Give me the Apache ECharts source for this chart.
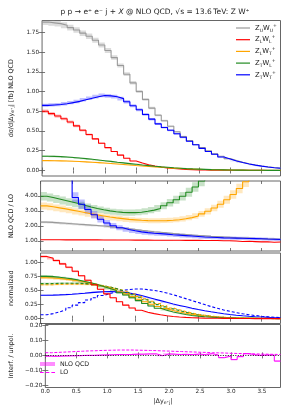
<!DOCTYPE html>
<html><head><meta charset="utf-8">
<script src="https://cdn.jsdelivr.net/npm/echarts@6/dist/echarts.min.js"></script>
<style>html,body{margin:0;padding:0;background:#fff}#c{width:293px;height:410px}</style>
</head><body><div id="c"></div>
<script>
// ---------- data ----------
const binEdges = [0.0,0.1,0.2,0.3,0.4,0.5,0.6,0.7,0.8,0.9,1.0,1.1,1.2,1.3,1.4,1.5,1.6,1.7,1.8,1.9,2.0,2.1,2.2,2.3,2.4,2.5,2.6,2.7,2.8,2.9,3.0,3.1,3.2,3.3,3.4,3.5,3.6,3.7,3.8];
const xTicks = [0,0.5,1,1.5,2,2.5,3,3.5];
const yTicks1 = [0,0.25,0.5,0.75,1.0,1.25,1.5,1.75];
const yTicks2 = [1,2,3,4];
const yTicks3 = [0,0.25,0.5,0.75,1.0];
const yTicks4 = [-0.2,-0.1,0,0.1,0.2];

// panel 1: dsigma/d|dy| [fb] NLO QCD
const xsec_ZUWU = [1.88,1.87,1.86,1.84,1.81,1.78,1.74,1.70,1.65,1.59,1.52,1.43,1.33,1.22,1.11,1.00,0.90,0.79,0.70,0.63,0.56,0.49,0.43,0.38,0.33,0.29,0.25,0.21,0.18,0.15,0.125,0.104,0.086,0.07,0.057,0.046,0.037,0.03];
const xsec_ZLWL = [0.75,0.72,0.69,0.655,0.615,0.565,0.51,0.455,0.40,0.345,0.29,0.24,0.195,0.155,0.12,0.095,0.073,0.056,0.043,0.033,0.025,0.019,0.014,0.011,0.008,0.006,0.005,0.004,0.003,0.0025,0.002,0.0015,0.0012,0.001,0.0008,0.0006,0.0005,0.0004];
const xsec_ZLWT = [0.125,0.124,0.122,0.12,0.117,0.113,0.109,0.104,0.099,0.094,0.088,0.082,0.076,0.07,0.063,0.057,0.051,0.045,0.04,0.035,0.03,0.026,0.022,0.019,0.016,0.013,0.011,0.009,0.0075,0.006,0.005,0.004,0.0033,0.0027,0.0022,0.0018,0.0015,0.0012];
const xsec_ZTWL = [0.18,0.178,0.175,0.17,0.165,0.158,0.15,0.142,0.133,0.124,0.115,0.105,0.096,0.087,0.078,0.069,0.061,0.053,0.046,0.04,0.034,0.029,0.024,0.02,0.017,0.014,0.011,0.009,0.0075,0.006,0.005,0.004,0.0032,0.0026,0.002,0.0016,0.0013,0.001];
const xsec_ZTWT = [0.825,0.83,0.835,0.845,0.86,0.875,0.895,0.915,0.935,0.95,0.945,0.935,0.91,0.87,0.82,0.77,0.71,0.65,0.59,0.545,0.51,0.465,0.42,0.37,0.325,0.28,0.24,0.205,0.17,0.145,0.12,0.1,0.083,0.068,0.055,0.044,0.035,0.028];

// panel 2: NLO QCD / LO
const ratio_ZUWU = [2.26,2.24,2.21,2.18,2.15,2.12,2.09,2.06,2.03,2.0,1.96,1.92,1.87,1.82,1.77,1.72,1.67,1.62,1.58,1.54,1.50,1.46,1.43,1.40,1.37,1.34,1.31,1.29,1.27,1.25,1.21,1.2,1.19,1.17,1.16,1.14,1.13,1.11];
const ratio_ZLWL = [1.08,1.08,1.08,1.078,1.077,1.076,1.075,1.073,1.072,1.07,1.068,1.066,1.064,1.062,1.06,1.058,1.056,1.054,1.052,1.05,1.048,1.046,1.044,1.042,1.04,1.038,1.035,1.03,1.02,1.02,1.0,0.97,0.98,0.96,0.94,0.95,0.92,0.93];
const ratio_ZLWT = [3.34,3.28,3.21,3.14,3.06,2.98,2.9,2.82,2.74,2.67,2.6,2.54,2.49,2.44,2.41,2.38,2.36,2.35,2.35,2.36,2.38,2.42,2.48,2.56,2.67,2.81,2.98,3.2,3.45,3.75,4.1,4.5,4.95,5.45,6.0,6.6,7.2,7.9];
const ratio_ZTWL = [3.98,3.9,3.8,3.7,3.6,3.5,3.38,3.27,3.17,3.08,3.01,2.95,2.91,2.89,2.89,2.92,2.98,3.06,3.17,3.35,3.55,3.75,3.98,4.25,4.6,5.0,5.4,5.8,6.2,6.7,7.2,7.8,8.4,9.0,9.7,10.5,11.3,12.2];
const ratio_ZTWT = [12,10,8,6.5,5.5,3.9,3.45,3.1,2.75,2.45,2.2,2.02,1.88,1.77,1.68,1.61,1.56,1.52,1.49,1.46,1.42,1.39,1.36,1.33,1.3,1.27,1.25,1.23,1.21,1.2,1.19,1.18,1.17,1.16,1.15,1.13,1.12,1.1];

// panel 3: normalized (solid NLO, dashed LO)
const normNLO_ZLWL = [1.1,1.07,1.03,0.97,0.91,0.84,0.76,0.68,0.6,0.52,0.44,0.37,0.3,0.24,0.19,0.15,0.115,0.09,0.07,0.053,0.04,0.031,0.024,0.018,0.014,0.011,0.009,0.007,0.006,0.005,0.004,0.003,0.003,0.002,0.002,0.002,0.001,0.001];
const normNLO_ZTWL = [0.75,0.745,0.735,0.72,0.705,0.685,0.66,0.635,0.605,0.57,0.535,0.5,0.46,0.42,0.37,0.32,0.27,0.225,0.185,0.15,0.12,0.095,0.075,0.058,0.045,0.035,0.027,0.021,0.016,0.013,0.01,0.008,0.006,0.005,0.004,0.003,0.003,0.002];
const normNLO_ZLWT = [0.725,0.72,0.712,0.70,0.688,0.672,0.652,0.63,0.605,0.578,0.547,0.513,0.477,0.44,0.39,0.345,0.30,0.255,0.215,0.178,0.146,0.118,0.095,0.076,0.06,0.048,0.038,0.03,0.024,0.019,0.015,0.012,0.01,0.008,0.006,0.005,0.004,0.003];
const normNLO_ZTWT = [0.415,0.418,0.422,0.427,0.434,0.442,0.451,0.461,0.47,0.477,0.48,0.478,0.47,0.455,0.435,0.41,0.38,0.35,0.32,0.29,0.26,0.235,0.21,0.185,0.163,0.142,0.122,0.104,0.088,0.074,0.062,0.052,0.043,0.035,0.029,0.023,0.018,0.014];
const normLO_ZTWL = [0.62,0.622,0.625,0.627,0.628,0.627,0.622,0.613,0.6,0.583,0.56,0.532,0.5,0.463,0.423,0.38,0.336,0.293,0.25,0.21,0.174,0.142,0.114,0.09,0.07,0.054,0.041,0.031,0.023,0.017,0.013,0.01,0.007,0.005,0.004,0.003,0.002,0.002];
const normLO_ZLWT = [0.60,0.603,0.607,0.61,0.612,0.612,0.61,0.605,0.595,0.58,0.56,0.535,0.505,0.472,0.435,0.395,0.353,0.31,0.268,0.228,0.19,0.157,0.127,0.101,0.079,0.061,0.047,0.036,0.027,0.02,0.015,0.011,0.008,0.006,0.004,0.003,0.002,0.002];
const normLO_ZTWT = [0.07,0.09,0.12,0.155,0.195,0.24,0.285,0.33,0.37,0.41,0.445,0.475,0.5,0.515,0.525,0.525,0.515,0.5,0.48,0.455,0.425,0.39,0.355,0.32,0.285,0.25,0.215,0.185,0.155,0.13,0.107,0.087,0.07,0.056,0.044,0.034,0.026,0.02];

// panel 4: Interf. / unpol.
const interf_NLO = [-0.005,-0.006,-0.004,-0.003,-0.002,-0.001,0.0,0.0,0.002,0.003,0.004,0.006,0.005,0.006,0.008,0.008,0.01,0.01,-0.002,0.01,0.008,0.006,0.007,0.005,0.009,0.004,0.012,0.002,-0.015,-0.005,-0.028,-0.008,0.012,0.004,0.0,0.003,0.002,-0.038];
const interf_LO = [0.018,0.02,0.022,0.024,0.026,0.028,0.03,0.031,0.033,0.034,0.035,0.036,0.036,0.036,0.035,0.034,0.033,0.032,0.03,0.029,0.027,0.026,0.024,0.023,0.021,0.02,0.018,0.017,0.016,0.014,0.013,0.012,0.011,0.01,0.009,0.008,0.007,0.006];

// ---------- styling ----------
const FONT = 'DejaVu Sans';
const C = {gray:'#9a9a9a', red:'#ff0000', orange:'#ffa500', green:'#228b22', blue:'#0000ff', mag:'#ff00ff'};
const FRAME = '#555';
const TXT = '#222';
const minus = s => s.replace('-', '\u2212');
const LINE_ICON = 'path://M0,0H14V1.2H0Z';
const DASH_ICON = 'path://M0,0H3.5V1H0Z M5.5,0H9V1H5.5Z M11,0H14.5V1H11Z';

const grids = [
  {left:29.5, width:251, top:20.5, height:155.5},
  {left:29.5, width:251, top:181, height:70},
  {left:29.5, width:251, top:253, height:70.5},
  {left:29.5, width:251, top:324.5, height:63}
];
const yRanges = [[-0.07,1.9],[0.333,5.0],[-0.085,1.163],[-0.215,0.207]];
const yTickSets = [yTicks1,yTicks2,yTicks3,yTicks4];
const subRich = {
  m:{fontSize:6.4, fontFamily:FONT, color:TXT, lineHeight:9},
  s:{fontSize:4.6, fontFamily:FONT, color:TXT, lineHeight:5, verticalAlign:'bottom'}
};
const yNames = [
  '{m|d\u03c3/d|\u0394y}{s|e\u207aj}{m|| [fb] NLO QCD}',
  '{m|NLO QCD / LO}',
  '{m|normalized}',
  '{m|Interf. / unpol.}'
];

const xAxes = [], yAxes = [];
grids.forEach((g, p) => {
  const base = {gridIndex:p, type:'value', min:0, max:3.8, splitLine:{show:false}, axisLine:{show:false},
    axisTick:{show:true, inside:true, length:3, customValues:xTicks, lineStyle:{color:FRAME, width:0.8}}};
  xAxes.push(Object.assign({}, base, {position:'bottom',
    axisLabel:{show:p===3, customValues:xTicks, formatter:v=>v.toFixed(1), fontSize:5.7, fontFamily:FONT, color:TXT, margin:1.5},
    name: p===3 ? '{m||\u0394y}{s|e\u207aj}{m||}' : '', nameLocation:'middle', nameGap:9,
    nameTextStyle:{rich:subRich}}));
  xAxes.push(Object.assign({}, base, {position:'top', axisLabel:{show:false}}));
  const yb = {gridIndex:p, type:'value', min:yRanges[p][0], max:yRanges[p][1], splitLine:{show:false}, axisLine:{show:false},
    axisTick:{show:true, inside:true, length:3, customValues:yTickSets[p], lineStyle:{color:FRAME, width:0.8}}};
  yAxes.push(Object.assign({}, yb, {position:'left',
    axisLabel:{show:true, customValues:yTickSets[p], formatter:v=>minus(v.toFixed(2)), fontSize:5.7, fontFamily:FONT, color:TXT, margin:3},
    name:yNames[p], nameLocation:'middle', nameGap:18.5, nameTextStyle:{rich:subRich}}));
  yAxes.push(Object.assign({}, yb, {position:'right', axisLabel:{show:false}}));
});

function stepData(vals){
  const d = vals.map((v,i)=>[binEdges[i], v]);
  d.push([binEdges[vals.length], vals[vals.length-1]]);
  return d;
}
function lineSeries(name, vals, p, color, type, width){
  return {type:'line', name, xAxisIndex:p*2, yAxisIndex:p*2, data:stepData(vals), step:'end',
    symbol:'none', showSymbol:false, clip:true, animation:false, z:4,
    lineStyle:{color, width:width||1.1, type:type||'solid'}, itemStyle:{color}};
}
function bandSeries(vals, p, color, frac, abs, opacity){
  return {type:'custom', xAxisIndex:p*2, yAxisIndex:p*2, data:[[0]], silent:true, animation:false, z:2,
    renderItem(params, api){
      const up = [], lo = [];
      vals.forEach((v,i)=>{
        const h = abs!=null ? v+abs : v*(1+frac);
        const l = abs!=null ? v-abs : v*(1-frac);
        up.push(api.coord([binEdges[i], h]), api.coord([binEdges[i+1], h]));
        lo.push(api.coord([binEdges[i], l]), api.coord([binEdges[i+1], l]));
      });
      const cs = params.coordSys;
      return {type:'polygon', shape:{points:up.concat(lo.reverse())},
        style:{fill:color, opacity:opacity},
        clipPath:{type:'rect', shape:{x:cs.x, y:cs.y, width:cs.width, height:cs.height}}};
    }};
}

const series = [
  // panel 1
  bandSeries(xsec_ZUWU,0,C.gray,0.02,null,0.35),
  bandSeries(xsec_ZLWL,0,C.red,0.03,null,0.25),
  bandSeries(xsec_ZLWT,0,C.orange,0.05,null,0.3),
  bandSeries(xsec_ZTWL,0,C.green,0.05,null,0.3),
  bandSeries(xsec_ZTWT,0,C.blue,0.025,null,0.25),
  lineSeries('ZUWU',xsec_ZUWU,0,C.gray),
  lineSeries('ZLWL',xsec_ZLWL,0,C.red),
  lineSeries('ZLWT',xsec_ZLWT,0,C.orange),
  lineSeries('ZTWL',xsec_ZTWL,0,C.green),
  lineSeries('ZTWT',xsec_ZTWT,0,C.blue),
  // panel 2
  bandSeries(ratio_ZUWU,1,C.gray,0.035,null,0.3),
  bandSeries(ratio_ZLWL,1,C.red,0.01,null,0.25),
  bandSeries(ratio_ZLWT,1,C.orange,0.07,null,0.25),
  bandSeries(ratio_ZTWL,1,C.green,0.07,null,0.25),
  bandSeries(ratio_ZTWT,1,C.blue,0.09,null,0.25),
  lineSeries('r_ZUWU',ratio_ZUWU,1,C.gray),
  lineSeries('r_ZLWL',ratio_ZLWL,1,C.red),
  lineSeries('r_ZLWT',ratio_ZLWT,1,C.orange),
  lineSeries('r_ZTWL',ratio_ZTWL,1,C.green),
  lineSeries('r_ZTWT',ratio_ZTWT,1,C.blue),
  // panel 3
  bandSeries(normNLO_ZLWL,2,C.red,0.02,null,0.25),
  bandSeries(normNLO_ZLWT,2,C.orange,0.03,null,0.3),
  bandSeries(normNLO_ZTWL,2,C.green,0.03,null,0.3),
  bandSeries(normNLO_ZTWT,2,C.blue,0.02,null,0.25),
  bandSeries(normLO_ZLWT,2,C.orange,0.03,null,0.2),
  bandSeries(normLO_ZTWL,2,C.green,0.03,null,0.2),
  lineSeries('n_ZTWT',normNLO_ZTWT,2,C.blue),
  lineSeries('l_ZTWT',normLO_ZTWT,2,C.blue,[3,2]),
  lineSeries('l_ZLWT',normLO_ZLWT,2,C.orange,[3,2]),
  lineSeries('l_ZTWL',normLO_ZTWL,2,C.green,[3,2]),
  lineSeries('n_ZLWT',normNLO_ZLWT,2,C.orange),
  lineSeries('n_ZTWL',normNLO_ZTWL,2,C.green),
  lineSeries('n_ZLWL',normNLO_ZLWL,2,C.red),
  // panel 4
  bandSeries(interf_NLO,3,C.mag,null,0.004,0.35),
  Object.assign(lineSeries('NLO QCD',interf_NLO,3,C.mag,'solid',1), {
    markLine:{silent:true, symbol:'none', animation:false, label:{show:false},
      lineStyle:{type:[1,1.5], color:'#000', width:0.9}, data:[{yAxis:0}]}}),
  lineSeries('LO',interf_LO,3,C.mag,[3,1.5],1)
];

const legRich = {
  m:{fontSize:6.8, fontFamily:FONT, color:TXT, lineHeight:10},
  s:{fontSize:4.6, fontFamily:FONT, color:TXT, lineHeight:5, verticalAlign:'bottom'},
  p:{fontSize:4.6, fontFamily:FONT, color:TXT, lineHeight:5, verticalAlign:'top'}
};
const legendLabels = {
  ZUWU:'{m|Z}{s|U}{m|W}{s|U}{p|+}',
  ZLWL:'{m|Z}{s|L}{m|W}{s|L}{p|+}',
  ZLWT:'{m|Z}{s|L}{m|W}{s|T}{p|+}',
  ZTWL:'{m|Z}{s|T}{m|W}{s|L}{p|+}',
  ZTWT:'{m|Z}{s|T}{m|W}{s|T}{p|+}'
};

const option = {
  animation:false,
  backgroundColor:'#fff',
  title:{text:'p p \u2192 e\u207a e\u207b j + {i|X} @ NLO QCD, \u221as = 13.6\u2009TeV: Z W\u207a', left:150, top:3, textAlign:'center',
    textStyle:{fontSize:7.5, fontWeight:'normal', fontFamily:FONT, color:TXT,
      rich:{i:{fontStyle:'italic', fontSize:7.5, fontFamily:FONT, color:TXT}}}},
  grid: grids.map(g=>Object.assign({show:true, borderColor:FRAME, borderWidth:0.9, backgroundColor:'transparent', containLabel:false}, g)),
  xAxis:xAxes,
  yAxis:yAxes,
  legend:[
    {data:['ZUWU','ZLWL','ZLWT','ZTWL','ZTWT'].map(n=>({name:n, icon:LINE_ICON})), orient:'vertical', left:231, top:18, itemWidth:14, itemHeight:8, itemGap:1.7,
      selectedMode:false, formatter:n=>legendLabels[n], textStyle:{rich:legRich, fontSize:6.8, fontFamily:FONT, color:TXT}},
    {data:[{name:'NLO QCD', icon:'rect', itemStyle:{color:'rgba(255,0,255,0.45)'}}, {name:'LO', icon:DASH_ICON}], orient:'vertical', left:35, top:356,
      itemWidth:15, itemHeight:4, itemGap:2.5, selectedMode:false,
      textStyle:{fontSize:6.3, fontFamily:FONT, color:TXT}}
  ],
  series
};

const chart = echarts.init(document.getElementById('c'), null, {renderer:'canvas', width:293, height:410});
chart.setOption(option);
</script>
</body></html>
